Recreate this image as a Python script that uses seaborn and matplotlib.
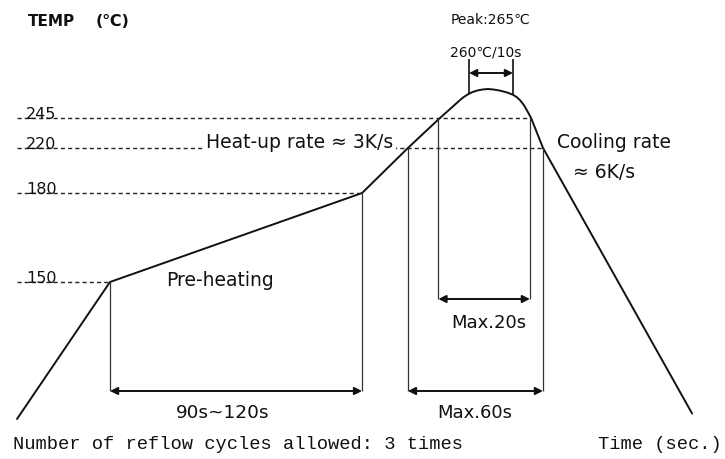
import numpy as np
import pandas as pd
import matplotlib
matplotlib.use("Agg")
import matplotlib.pyplot as plt
import seaborn as sns

time_s = [0.0, 40.6, 150.7, 170.7, 184.7, 189.1, 191.3, 193.4, 195.2, 197.4,
          199.1, 201.3, 203.5, 205.7, 208.3, 210.9, 214.0, 216.6, 218.3,
          219.7, 221.4, 222.7, 224.5, 229.7, 294.8]
temp_c = [25, 150, 180, 220, 245, 251.2, 254.3, 257.3, 259.6, 261.8,
          263.0, 264.1, 264.7, 265, 264.6, 263.9, 262.6, 261.0, 259.3,
          257.2, 253.8, 250.2, 245, 220, 30]

levels = [150, 180, 220, 245]
level_labels = ["150", "180", "220", "245"]
level_end_time = [40.6, 150.7, 229.7, 224.5]   # where each guide meets the curve

preheat_window = [40.6, 150.7]      # 150 -> 180 C
above220_window = [170.7, 229.7]    # Max.60s
above245_window = [184.0, 224.0]    # Max.20s
peak_window = [197.4, 216.6]        # 260C / 10s
peak_window_temp = [261.8, 261.0]

# ---------------- schematic (non-linear) temperature axis ----------------
scale_temp = [-11.5, 25, 150, 180, 220, 245, 265, 327]
scale_pos = [-460, -420, -283, -194, -149, -119, -90, 0]


def fwd(t):
    return np.interp(t, scale_temp, scale_pos)


def inv(p):
    return np.interp(p, scale_pos, scale_temp)


def ty(px):
    """temperature value at a pixel row of the canvas"""
    return float(inv(-px))


def tx(px):
    """time value at a pixel column of the canvas"""
    return (px - 17) / 2.29


sns.set_theme(style="white")
plt.rcParams["font.family"] = ["DejaVu Sans"]

W, H = 725, 460
fig = plt.figure(figsize=(W / 100, H / 100), dpi=100)
ax = fig.add_axes([0, 0, 1, 1])
ax.set_yscale("function", functions=(fwd, inv))
ax.set_xlim(tx(0), tx(W))
ax.set_ylim(scale_temp[0], scale_temp[-1])
ax.axis("off")

ink = "#111111"
df = pd.DataFrame({"time": time_s, "temp": temp_c})
sns.lineplot(data=df, x="time", y="temp", ax=ax, color=ink, lw=1.4,
             estimator=None, sort=False)

# dashed guides and level labels
for lv, lab, te in zip(levels, level_labels, level_end_time):
    ax.hlines(lv, 0, te, colors="#222222", lw=1.0, linestyles=(0, (3, 2.2)))
    ax.text(tx(26), lv, lab, fontsize=11.5, color=ink, ha="left", va="baseline")

# vertical drop lines
y_low = ty(392)
y_mid = ty(300)
vcol = "#333333"
ax.vlines(preheat_window[0], 150, y_low, colors=vcol, lw=0.9)
ax.vlines(preheat_window[1], 180, y_low, colors=vcol, lw=0.9)
ax.vlines(above220_window[0], 220, y_low, colors=vcol, lw=0.9)
ax.vlines(above220_window[1], 220, y_low, colors=vcol, lw=0.9)
ax.vlines(above245_window[0], 245, y_mid, colors=vcol, lw=0.9)
ax.vlines(above245_window[1], 245, y_mid, colors=vcol, lw=0.9)
y_top = ty(60)
ax.vlines(peak_window[0], peak_window_temp[0], y_top, colors=ink, lw=1.2)
ax.vlines(peak_window[1], peak_window_temp[1], y_top, colors=ink, lw=1.2)

arrow = dict(arrowstyle="<|-|>", lw=1.4, color=ink, mutation_scale=11,
             shrinkA=0, shrinkB=0)


def harrow(a, b, y):
    ax.annotate("", xy=(a, y), xytext=(b, y), arrowprops=arrow)


harrow(*preheat_window, y_low)
harrow(*above220_window, y_low)
harrow(*above245_window, y_mid)
harrow(*peak_window, ty(74))

# annotations


def T(xp, yp, s, **kw):
    kw.setdefault("color", ink)
    fig.text(xp / W, 1 - yp / H, s, **kw)


T(28, 22, "TEMP", fontsize=11, fontweight="bold", va="center")
T(96, 22, "(℃)", fontsize=11.5, fontweight="bold", va="center")
T(491, 20, "Peak:265℃", fontsize=10, ha="center", va="center")
T(486, 52, "260℃/10s", fontsize=10, ha="center", va="center")
T(300, 148, "Heat-up rate ≈ 3K/s", fontsize=13.5, ha="center", va="baseline",
  bbox=dict(facecolor="white", edgecolor="none", pad=1.5))
T(614, 142, "Cooling rate", fontsize=13.5, ha="center", va="center")
T(604, 172, "≈ 6K/s", fontsize=13.5, ha="center", va="center")
T(220, 280, "Pre-heating", fontsize=13.5, ha="center", va="center")
T(223, 413, "90s~120s", fontsize=13.3, ha="center", va="center")
T(489, 323, "Max.20s", fontsize=13, ha="center", va="center")
T(475, 413, "Max.60s", fontsize=13, ha="center", va="center")
T(13, 445, "Number of reflow cycles allowed: 3 times", fontsize=13.5,
  family=["Liberation Mono", "DejaVu Sans Mono"], va="center")
T(722, 445, "Time (sec.)", fontsize=13.5, ha="right",
  family=["Liberation Mono", "DejaVu Sans Mono"], va="center")

fig.savefig("out.png", dpi=100, facecolor="white")
